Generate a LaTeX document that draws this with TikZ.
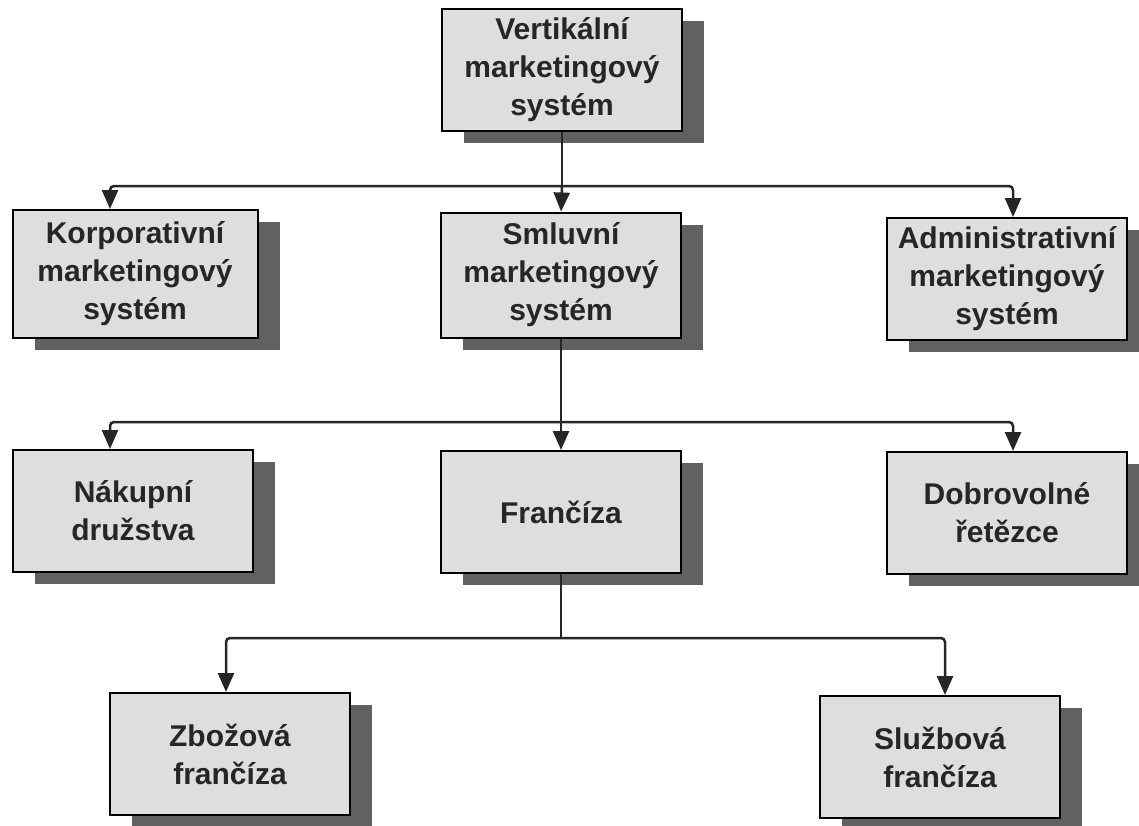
\documentclass[tikz,border=0pt]{standalone}
\usepackage{fontspec}
\setmainfont{Liberation Sans}
\usetikzlibrary{arrows.meta,shadows}

\begin{document}
\begin{tikzpicture}[x=1pt,y=-1pt,
    box/.style={draw=black,line width=2pt,fill=black!13,text=black!85,
      minimum width=240pt,minimum height=122pt,align=center,
      font=\fontsize{30}{38}\selectfont\bfseries,
      drop shadow={shadow xshift=22pt,shadow yshift=-12pt,fill=black!62,opacity=1}},
    link/.style={draw=black!85,line width=2.5pt,rounded corners=4pt},
    arrow/.style={link,-{Triangle[length=19pt,width=16pt]}}]

\useasboundingbox (0,0) rectangle (1139,825);

% Top level
\node[box] (vms) at (562,70) {Vertikální\\marketingový\\systém};

% Second level
\node[box,minimum width=245pt,minimum height=128pt] (kms) at (135,274) {Korporativní\\marketingový\\systém};
\node[box,minimum height=125pt] (sms) at (561,275) {Smluvní\\marketingový\\systém};
\node[box] (ams) at (1007,279) {Administrativní\\marketingový\\systém};

% Third level
\node[box] (nd) at (133,511) {Nákupní\\družstva};
\node[box] (fr) at (561,512) {Frančíza};
\node[box] (dr) at (1007,513) {Dobrovolné\\řetězce};

% Fourth level
\node[box] (zf) at (230,754) {Zbožová\\frančíza};
\node[box] (sf) at (940,757) {Službová\\frančíza};

% Junctions
\coordinate (j1) at (562,186);
\coordinate (j2) at (561,422);
\coordinate (j3) at (561,638);

% Connectors
\draw[link] (vms.south) -- (j1);
\draw[arrow] (j1) -| ([xshift=-25pt]kms.north);
\draw[arrow] (j1) -- (sms.north);
\draw[arrow] (j1) -| ([xshift=6pt]ams.north);

\draw[link] (sms.south) -- (j2);
\draw[arrow] (j2) -| ([xshift=-23pt]nd.north);
\draw[arrow] (j2) -- (fr.north);
\draw[arrow] (j2) -| ([xshift=6pt]dr.north);

\draw[link] (fr.south) -- (j3);
\draw[arrow] (j3) -| ([xshift=-4pt]zf.north);
\draw[arrow] (j3) -| ([xshift=5pt]sf.north);

\end{tikzpicture}
\end{document}
